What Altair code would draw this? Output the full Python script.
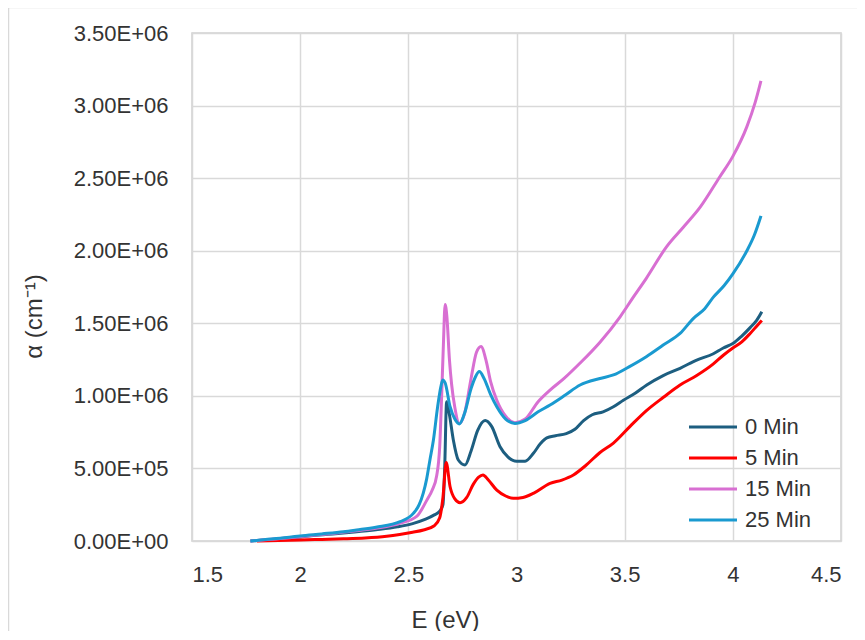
import altair as alt
import pandas as pd

# ---- data ----
series_names = ["0 Min", "5 Min", "15 Min", "25 Min"]
series_colors = ["#1D5E80", "#FF0000", "#D86FD2", "#1A9AD0"]

e_0 = [1.77, 1.85, 1.95, 2.05, 2.15, 2.25, 2.35, 2.45, 2.52, 2.58, 2.62, 2.645, 2.66, 2.668, 2.677,
       2.69, 2.708, 2.731, 2.762, 2.79, 2.82, 2.855, 2.885, 2.924, 2.96, 3.0, 3.04, 3.078, 3.11, 3.14,
       3.18, 3.23, 3.27, 3.31, 3.35, 3.40, 3.448, 3.494, 3.55, 3.602, 3.678, 3.756, 3.833, 3.91, 3.956,
       4.0, 4.04, 4.08, 4.11, 4.134]
a_0 = [0, 0.9e4, 2.0e4, 3.6e4, 4.8e4, 6.2e4, 7.8e4, 9.8e4, 1.2e5, 1.5e5, 1.8e5, 2.05e5, 2.5e5, 5.0e5, 9.6e5,
       8.7e5, 6.96e5, 5.58e5, 5.24e5, 6.2e5, 7.6e5, 8.3e5, 7.9e5, 6.5e5, 5.8e5, 5.5e5, 5.5e5, 6.04e5, 6.7e5, 7.1e5,
       7.25e5, 7.4e5, 7.7e5, 8.3e5, 8.7e5, 8.9e5, 9.25e5, 9.7e5, 1.02e6, 1.075e6, 1.14e6, 1.19e6, 1.247e6, 1.29e6, 1.33e6,
       1.36e6, 1.41e6, 1.47e6, 1.52e6, 1.58e6]

e_5 = [1.80, 1.90, 2.0, 2.1, 2.2, 2.3, 2.4, 2.46, 2.52, 2.57, 2.62, 2.645, 2.66, 2.675, 2.693,
       2.715, 2.739, 2.77, 2.80, 2.825, 2.845, 2.87, 2.909, 2.95, 2.985, 3.03, 3.08, 3.155, 3.21, 3.263,
       3.32, 3.386, 3.448, 3.525, 3.602, 3.679, 3.756, 3.833, 3.91, 3.956, 4.0, 4.04, 4.08, 4.11, 4.134]
a_5 = [0, 4e3, 7e3, 1.1e4, 1.5e4, 2.1e4, 3.3e4, 4.5e4, 6.0e4, 7.6e4, 1.05e5, 1.6e5, 3.0e5, 5.4e5, 3.74e5,
       2.9e5, 2.64e5, 3.0e5, 3.9e5, 4.4e5, 4.55e5, 4.2e5, 3.5e5, 3.1e5, 2.94e5, 3.0e5, 3.3e5, 3.97e5, 4.2e5, 4.55e5,
       5.2e5, 6.1e5, 6.75e5, 7.9e5, 9.0e5, 9.9e5, 1.075e6, 1.14e6, 1.22e6, 1.28e6, 1.33e6, 1.37e6, 1.43e6, 1.48e6, 1.52e6]

e_15 = [1.77, 1.85, 1.95, 2.05, 2.15, 2.25, 2.35, 2.46, 2.54, 2.585, 2.61, 2.631, 2.645, 2.654, 2.662,
        2.67, 2.678, 2.69, 2.70, 2.715, 2.736, 2.76, 2.79, 2.815, 2.836, 2.86, 2.88, 2.909, 2.95, 2.993,
        3.04, 3.10, 3.155, 3.22, 3.294, 3.386, 3.479, 3.54, 3.60, 3.695, 3.77, 3.849, 3.94, 4.0, 4.065,
        4.103, 4.13]
a_15 = [0, 1.0e4, 2.2e4, 3.8e4, 5.2e4, 6.8e4, 8.7e4, 1.22e5, 1.72e5, 2.8e5, 3.5e5, 4.5e5, 6.5e5, 1.0e6, 1.35e6,
        1.63e6, 1.55e6, 1.25e6, 1.08e6, 9.2e5, 8.1e5, 8.8e5, 1.12e6, 1.3e6, 1.34e6, 1.24e6, 1.1e6, 9.7e5, 8.6e5, 8.15e5,
        8.4e5, 9.6e5, 1.04e6, 1.12e6, 1.226e6, 1.37e6, 1.545e6, 1.68e6, 1.81e6, 2.03e6, 2.16e6, 2.30e6, 2.51e6, 2.65e6, 2.855e6,
        3.02e6, 3.17e6]

e_25 = [1.77, 1.85, 1.95, 2.0, 2.1, 2.2, 2.261, 2.35, 2.462, 2.523, 2.55, 2.569, 2.585, 2.60, 2.616,
        2.635, 2.65, 2.659, 2.67, 2.693, 2.715, 2.736, 2.76, 2.79, 2.81, 2.828, 2.85, 2.88, 2.909, 2.95,
        2.993, 3.04, 3.10, 3.155, 3.22, 3.294, 3.386, 3.448, 3.52, 3.60, 3.678, 3.756, 3.818, 3.87, 3.91,
        3.96, 4.0, 4.065, 4.10, 4.13]
a_25 = [0, 1.2e4, 2.6e4, 3.5e4, 4.9e4, 6.4e4, 7.6e4, 9.5e4, 1.33e5, 1.9e5, 2.5e5, 3.3e5, 4.3e5, 5.6e5, 6.96e5,
        9.2e5, 1.06e6, 1.11e6, 1.09e6, 9.25e5, 8.4e5, 8.06e5, 8.8e5, 1.05e6, 1.13e6, 1.167e6, 1.12e6, 1.01e6, 9.25e5, 8.4e5,
        8.1e5, 8.3e5, 8.9e5, 9.37e5, 1.0e6, 1.075e6, 1.12e6, 1.144e6, 1.2e6, 1.27e6, 1.35e6, 1.43e6, 1.534e6, 1.6e6, 1.68e6,
        1.76e6, 1.84e6, 2.0e6, 2.11e6, 2.24e6]

x_ticks = [1.5, 2, 2.5, 3, 3.5, 4, 4.5]
y_ticks = [0, 5e5, 1e6, 1.5e6, 2e6, 2.5e6, 3e6, 3.5e6]
y_tick_labels = ["0.00E+00", "5.00E+05", "1.00E+06", "1.50E+06", "2.00E+06", "2.50E+06", "3.00E+06", "3.50E+06"]

# ---- table ----
rows = []
for name, es, als in zip(series_names, [e_0, e_5, e_15, e_25], [a_0, a_5, a_15, a_25]):
    for i, (e, a) in enumerate(zip(es, als)):
        rows.append({"series": name, "E": e, "alpha": a, "order": i})
df = pd.DataFrame(rows)

label_expr = ""
for v, lab in zip(y_ticks, y_tick_labels):
    label_expr += f"datum.value == {v} ? '{lab}' : "
label_expr += "''"

FONT = "Liberation Sans"
TXT = "#333333"

lines = alt.Chart(df).mark_line(strokeWidth=3, interpolate="monotone").encode(
    x=alt.X("E:Q",
            scale=alt.Scale(domain=[1.5, 4.5], nice=False, zero=False),
            axis=alt.Axis(values=x_ticks, format="~g", title="E (eV)",
                          titleX=253, titleY=79, titleBaseline="middle", titleAlign="center",
                          labelPadding=23, ticks=False, domain=False,
                          gridColor="#D9D9D9", gridWidth=1.5)),
    y=alt.Y("alpha:Q",
            scale=alt.Scale(domain=[0, 3.5e6], nice=False),
            axis=alt.Axis(values=y_ticks, labelExpr=label_expr, title="α (cm⁻¹)",
                          titleX=-158, titleY=283, titleBaseline="middle", titleAlign="center",
                          labelPadding=24, ticks=False, domain=False,
                          gridColor="#D9D9D9", gridWidth=1.5)),
    color=alt.Color("series:N",
                    scale=alt.Scale(domain=series_names, range=series_colors),
                    sort=series_names,
                    legend=alt.Legend(orient="none", legendX=526, legendY=383, title=None,
                                      symbolType="M-5,0H1", symbolSize=256, symbolStrokeWidth=3,
                                      labelFontSize=22, labelFont=FONT, labelColor=TXT,
                                      labelOffset=5, rowPadding=9, padding=0)),
    order="order:Q",
)

frame = alt.Chart(pd.DataFrame({"k": [0]})).mark_rect(
    fill="transparent", stroke="#D9D9D9", strokeWidth=1.5
).encode(
    x=alt.value(-183.5), x2=alt.value(700), y=alt.value(-25.5), y2=alt.value(640)
)

chart = alt.layer(frame, lines).properties(
    width=649, height=508,
    autosize=alt.AutoSizeParams(type="none"),
    padding={"left": 184, "top": 25, "right": 16, "bottom": 90},
).configure_axis(
    labelFont=FONT, labelFontSize=22, labelColor=TXT,
    titleFont=FONT, titleFontSize=24, titleColor=TXT, titleFontWeight="normal",
).configure_view(
    stroke="#D0D0D0", strokeWidth=1.5
)

chart.save("out.html", embed_options={"renderer": "svg", "actions": False})
